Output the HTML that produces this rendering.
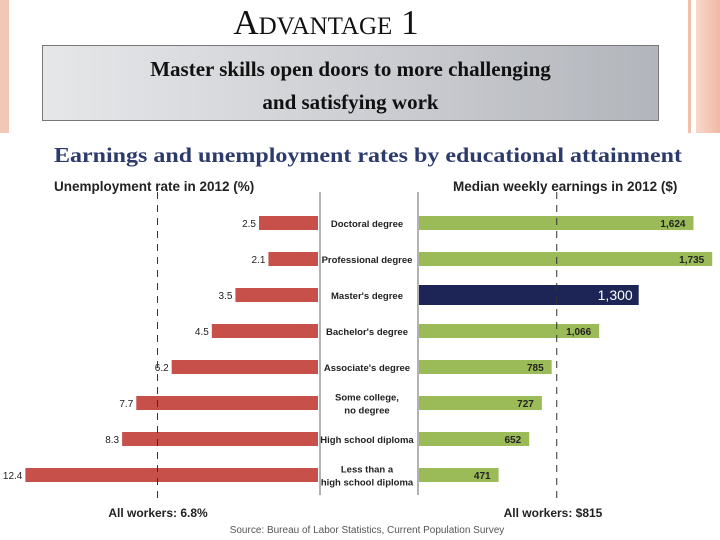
<!DOCTYPE html>
<html><head><meta charset="utf-8"><style>
body{margin:0;width:720px;height:540px;background:#fff;overflow:hidden;position:relative;font-family:"Liberation Sans",sans-serif}
.abs{position:absolute}
</style></head><body>
<div class="abs" style="left:0;top:0;width:9px;height:133px;background:#f3c7b5"></div>
<div class="abs" style="left:688px;top:0;width:3px;height:133px;background:#f3c0aa"></div>
<div class="abs" style="left:696px;top:0;width:24px;height:133px;background:linear-gradient(90deg,#f7d8cb,#f0b9a3)"></div>
<div class="abs" style="left:0;top:3px;width:652px;text-align:center;font-family:'Liberation Serif',serif;font-size:35px;font-variant:small-caps;color:#111">Advantage 1</div>
<div class="abs" style="left:42px;top:45px;width:617px;height:76px;border:1px solid #777;background:linear-gradient(90deg,#e6e7e9,#c9cbd0 60%,#b2b5bb);box-sizing:border-box;text-align:center;font-family:'Liberation Serif',serif;font-weight:bold;font-size:21px;line-height:33px;padding-top:7px;color:#111">Master skills open doors to more challenging<br>and satisfying work</div>
<svg class="abs" style="left:0;top:0" width="720" height="540">
<text x="54" y="162" font-family="Liberation Serif,serif" font-weight="bold" font-size="21" fill="#2d3b6c" textLength="628" lengthAdjust="spacingAndGlyphs">Earnings and unemployment rates by educational attainment</text>
<text x="54" y="191" font-size="13.5" font-weight="bold" fill="#222">Unemployment rate in 2012 (%)</text>
<text x="453" y="191" font-size="13.5" font-weight="bold" fill="#222">Median weekly earnings in 2012 ($)</text>
<g id="g"></g>
<text x="158" y="517" text-anchor="middle" font-size="12" font-weight="bold" fill="#222">All workers: 6.8%</text>
<text x="553" y="517" text-anchor="middle" font-size="12" font-weight="bold" fill="#222">All workers: $815</text>
<text x="367" y="533" text-anchor="middle" font-size="10" fill="#555">Source: Bureau of Labor Statistics, Current Population Survey</text>
</svg>
<script>
const categories=[["Doctoral degree"],["Professional degree"],["Master's degree"],["Bachelor's degree"],["Associate's degree"],["Some college,","no degree"],["High school diploma"],["Less than a","high school diploma"]];
const unemployment=[2.5,2.1,3.5,4.5,6.2,7.7,8.3,12.4];
const earnings=[1624,1735,1300,1066,785,727,652,471];
const earningLabels=["1,624","1,735","1,300","1,066","785","727","652","471"];
const avgUnemp=6.8, avgEarn=815;
const NS="http://www.w3.org/2000/svg";
const g=document.getElementById('g');
const xl=v=>318-v*23.6, xr=v=>419+v*0.169, yc=i=>223+i*36;
function mk(t,a){const e=document.createElementNS(NS,t);for(const k in a)e.setAttribute(k,a[k]);g.appendChild(e);return e;}
let e;
e=mk('line',{x1:320,y1:192,x2:320,y2:495,stroke:'#999','stroke-width':1.5});


e=mk('line',{x1:418,y1:192,x2:418,y2:495,stroke:'#999','stroke-width':1.5});


categories.forEach((c,i)=>{
  const y=yc(i);
  e=mk('rect',{x:xl(unemployment[i]),y:y-7,width:318-xl(unemployment[i]),height:14,fill:'#c8504b'});
  
  
  e=mk('text',{x:xl(unemployment[i])-3,y:y+4,'text-anchor':'end','font-size':10,fill:'#222'});e.textContent=unemployment[i].toFixed(1);
  
  
  const hi=i===2;
  e=mk('rect',{x:419,y:y-(hi?10:7),width:xr(earnings[i])-419,height:hi?20:14,fill:hi?'#1c2555':'#9bbb59'});
  
  
  e=mk('text',{x:xr(earnings[i])-(hi?6:8),y:y+(hi?5:4),'text-anchor':'end','font-size':hi?14:10,'font-weight':hi?'normal':'bold',fill:hi?'#fff':'#222'});e.textContent=earningLabels[i];
  
  
  c.forEach((l,j)=>{
    e=mk('text',{x:367,y:y+4+(c.length>1?(j-0.5)*13:0),'text-anchor':'middle','font-size':9.5,'font-weight':'bold',fill:'#222'});e.textContent=l;
    
    
  });
});
e=mk('line',{x1:xl(avgUnemp),y1:192,x2:xl(avgUnemp),y2:500,stroke:'#333','stroke-dasharray':'7,6'});


e=mk('line',{x1:xr(avgEarn),y1:192,x2:xr(avgEarn),y2:500,stroke:'#333','stroke-dasharray':'7,6'});


</script>
</body></html>
